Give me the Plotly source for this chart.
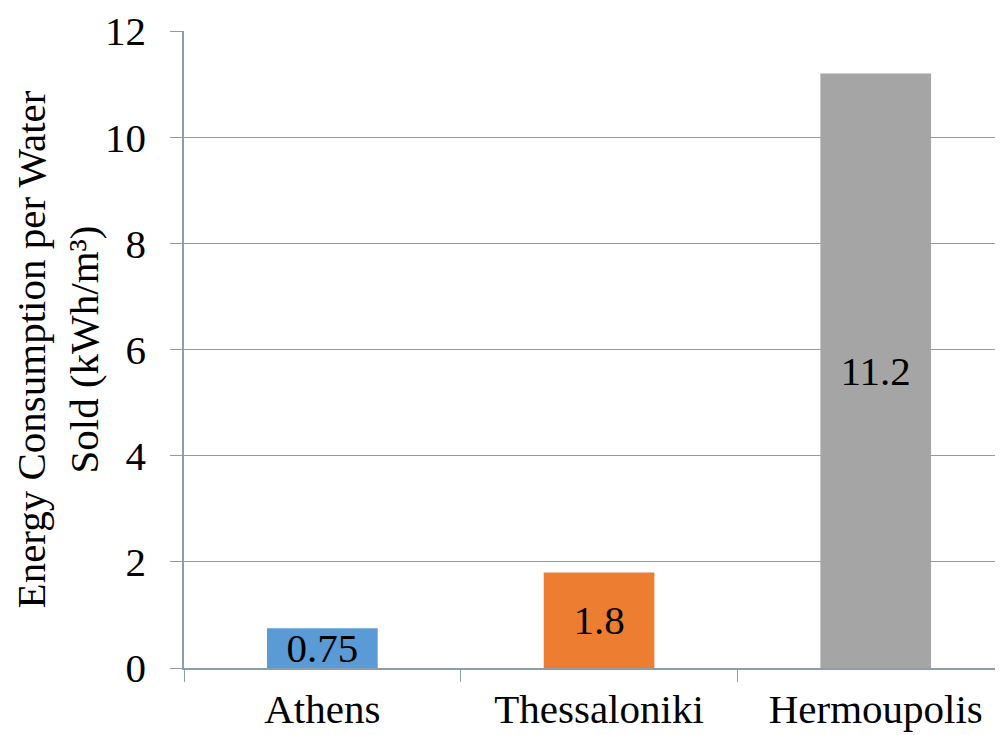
import plotly.graph_objects as go

# data
cities = ["Athens", "Thessaloniki", "Hermoupolis"]
energy_per_m3 = [0.75, 1.8, 11.2]
bar_colors = ["#5B9BD5", "#ED7D31", "#A5A5A5"]
y_ticks = [0, 2, 4, 6, 8, 10, 12]

# page body has an 8px margin, so the figure is shifted by that much
FONT = "Liberation Serif"
FONT_SIZE = 41
AXIS_COLOR = "#8a9fab"
GRID_COLOR = "#9a9a9a"

fig = go.Figure(go.Bar(
    x=cities,
    y=energy_per_m3,
    marker=dict(color=bar_colors, line=dict(width=0)),
    text=[str(v) for v in energy_per_m3],
    textposition="inside",
    insidetextanchor="middle",
    constraintext="none",
    textfont=dict(family=FONT, size=FONT_SIZE, color="black"),
    hoverinfo="x+y",
))

fig.update_layout(
    width=995,
    height=727,
    margin=dict(l=176, r=0, t=23, b=67, autoexpand=False),
    paper_bgcolor="white",
    plot_bgcolor="white",
    bargap=0.6,
    showlegend=False,
    font=dict(family=FONT, size=FONT_SIZE, color="black"),
)

fig.update_xaxes(
    type="category",
    range=[-0.5, 2.46],
    automargin=False,
    showline=True,
    linecolor=AXIS_COLOR,
    linewidth=1.5,
    ticks="outside",
    tickson="boundaries",
    ticklen=12,
    tickcolor=AXIS_COLOR,
    ticklabelstandoff=4,
    tickfont=dict(family=FONT, size=FONT_SIZE, color="black"),
    showgrid=False,
)

fig.update_yaxes(
    range=[0, 12],
    automargin=False,
    tickvals=y_ticks,
    showline=True,
    linecolor=AXIS_COLOR,
    linewidth=1.5,
    ticks="outside",
    ticklen=12,
    tickcolor=GRID_COLOR,
    ticklabelstandoff=16,
    showgrid=True,
    gridcolor=GRID_COLOR,
    gridwidth=1,
    zeroline=False,
    tickfont=dict(family=FONT, size=FONT_SIZE, color="black"),
    title=dict(
        text="Energy Consumption per Water<br>Sold (kWh/m³)",
        font=dict(family=FONT, size=FONT_SIZE, color="black"),
        standoff=8,
    ),
)

fig.write_html("out.html")
